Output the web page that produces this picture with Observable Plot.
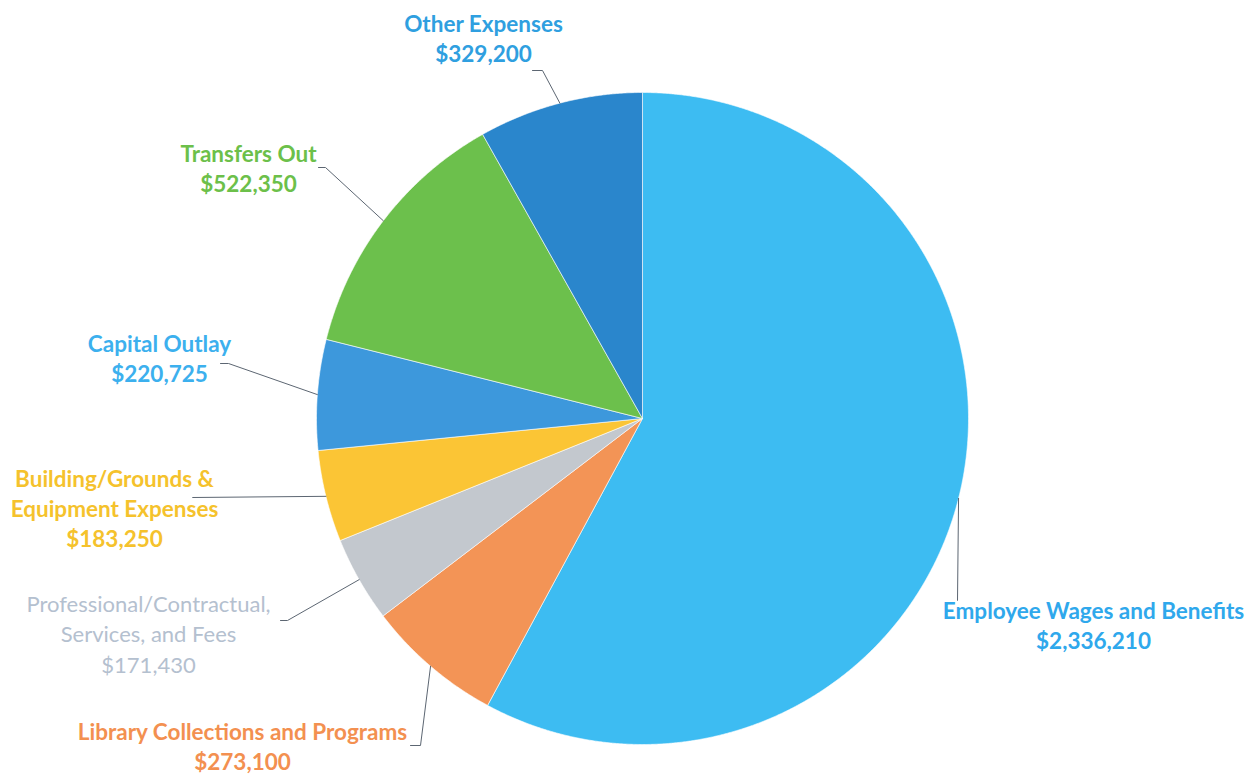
<!DOCTYPE html>
<html>
<head>
<meta charset="utf-8">
<script src="https://cdn.jsdelivr.net/npm/d3@7"></script>
<script src="https://cdn.jsdelivr.net/npm/@observablehq/plot@0.6"></script>
<style>
  html, body { margin: 0; padding: 0; background: #ffffff; }
  #chart svg { display: block; }
</style>
</head>
<body>
<div id="chart"></div>
<script>
// ---- data ----
const categories = [
  "Employee Wages and Benefits",
  "Library Collections and Programs",
  "Professional/Contractual,\nServices, and Fees",
  "Building/Grounds &\nEquipment Expenses",
  "Capital Outlay",
  "Transfers Out",
  "Other Expenses"
];
const values = [2336210, 273100, 171430, 183250, 220725, 522350, 329200];
const sliceColors = ["#3dbcf2", "#f39456", "#c3c8ce", "#fbc535", "#3d98dc", "#6cc04c", "#2a86cc"];
const labelColors = ["#2fa8ec", "#f39050", "#b4c0cf", "#f5c22c", "#3cb0ee", "#6cc04a", "#2f9fe0"];
const labelWeights = ["bold", "bold", "normal", "bold", "bold", "bold", "bold"];

// label layout (pie frame, pixels from pie centre): text block centre, leader elbow, leader end
const labelPos   = [[451, 206], [-400, 327], [-494, 214], [-528, 89], [-483, -61], [-394, -251], [-159, -381]];
const leaderBend = [[315, 182], [-222, 327], [-355, 202], [-450, 79], [-414, -55], [-317, -251], [-100, -348]];
const leaderEnd  = [[315, 182], [-232, 327], [-362, 202], [-450, 79], [-422, -55], [-324, -251], [-110, -348]];

// ---- build ----
const W = 1258, H = 776, CX = 642, CY = 418, R = 326;
const fmt = d3.format("$,");
const rows = categories.map((c, i) => ({ name: c, value: values[i], i }));
const arcs = d3.pie().sort(null).value(d => d.value)(rows);

const slicePts = [];
arcs.forEach(a => {
  const k = a.data.i;
  slicePts.push({ k, x: 0, y: 0 });
  const n = Math.max(2, Math.ceil((a.endAngle - a.startAngle) / 0.004));
  for (let j = 0; j <= n; j++) {
    const t = a.startAngle + (a.endAngle - a.startAngle) * j / n;
    slicePts.push({ k, x: R * Math.sin(t), y: -R * Math.cos(t) });
  }
  slicePts.push({ k, x: 0, y: 0 });
});

const leaderPts = [];
arcs.forEach(a => {
  const k = a.data.i;
  const m = (a.startAngle + a.endAngle) / 2;
  leaderPts.push({ k, x: R * Math.sin(m), y: -R * Math.cos(m) });
  leaderPts.push({ k, x: leaderBend[k][0], y: leaderBend[k][1] });
  leaderPts.push({ k, x: leaderEnd[k][0], y: leaderEnd[k][1] });
});

const labels = rows.map(r => ({
  k: r.i,
  x: labelPos[r.i][0],
  y: labelPos[r.i][1],
  text: r.name + "\n" + fmt(r.value)
}));

const chart = Plot.plot({
  width: W,
  height: H,
  margin: 0,
  style: { fontFamily: "Lato, 'Open Sans', sans-serif", background: "#ffffff" },
  x: { domain: [-CX, W - CX], range: [0, W], axis: null },
  y: { domain: [-CY, H - CY], range: [0, H], axis: null },
  color: { type: "identity" },
  marks: [
    Plot.line(slicePts, {
      x: "x", y: "y", z: "k",
      fill: d => sliceColors[d.k],
      stroke: "#ffffff", strokeWidth: 0.6, strokeLinejoin: "round"
    }),
    Plot.line(leaderPts, {
      x: "x", y: "y", z: "k",
      stroke: "#5c6672", strokeWidth: 1
    }),
    Plot.text(labels.filter(d => labelWeights[d.k] === "bold"), {
      x: "x", y: "y", text: "text",
      fill: d => labelColors[d.k],
      fontSize: 22.5, fontWeight: "bold", lineHeight: 1.33,
      lineAnchor: "middle", textAnchor: "middle"
    }),
    Plot.text(labels.filter(d => labelWeights[d.k] !== "bold"), {
      x: "x", y: "y", text: "text",
      fill: d => labelColors[d.k],
      fontSize: 22, fontWeight: "normal", lineHeight: 1.38,
      lineAnchor: "middle", textAnchor: "middle"
    })
  ]
});
document.getElementById("chart").appendChild(chart);
</script>
</body>
</html>
